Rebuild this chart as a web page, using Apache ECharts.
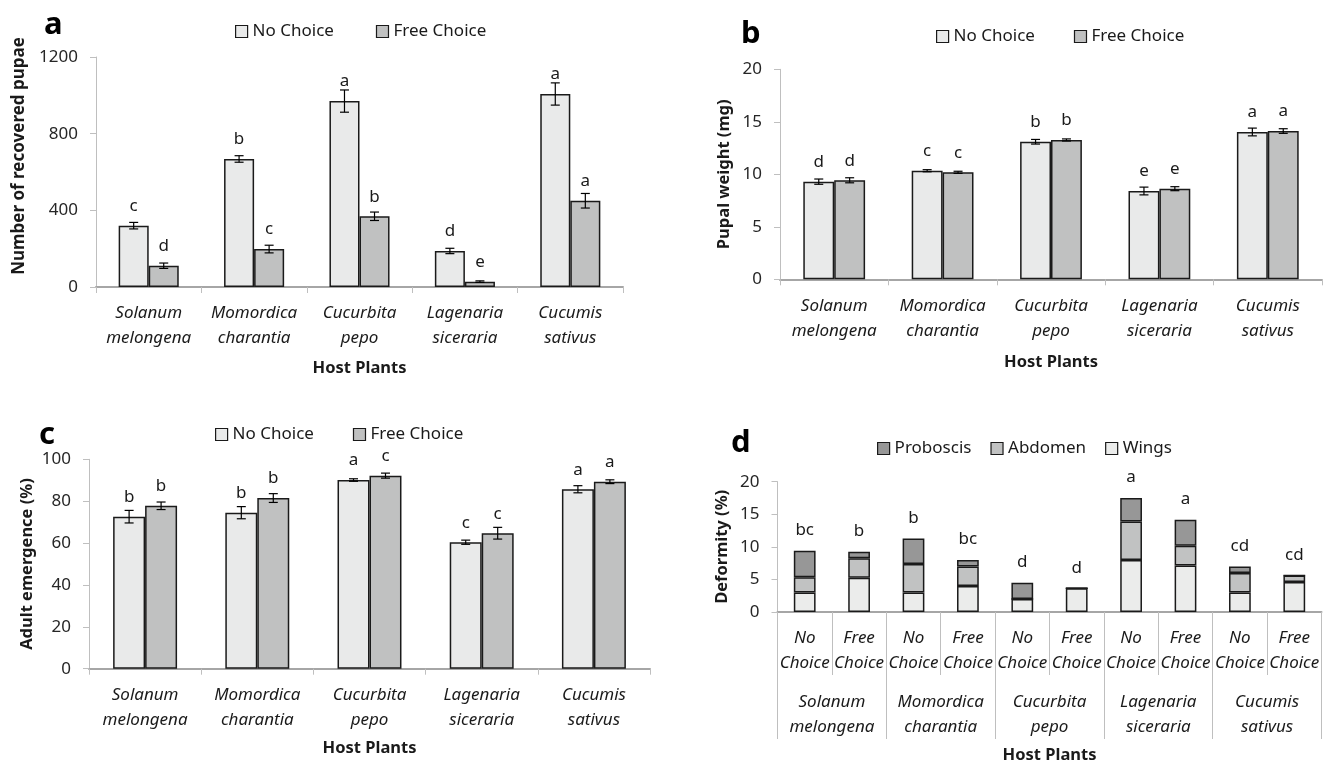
<!DOCTYPE html>
<html>
<head>
<meta charset="utf-8">
<script src="https://cdn.jsdelivr.net/npm/echarts@6/dist/echarts.min.js"></script>
<style>
html,body{margin:0;padding:0;background:#fff;}
#chart{width:1323px;height:765px;}
</style>
</head>
<body>
<div id="chart"></div>
<script>
// ---------- data ----------
const hostPlants = ['Solanum\nmelongena', 'Momordica\ncharantia', 'Cucurbita\npepo', 'Lagenaria\nsiceraria', 'Cucumis\nsativus'];
const treatments = ['No\nChoice', 'Free\nChoice'];

// (a) Number of recovered pupae
const pupaeNC = [320, 668, 970, 188, 1007];
const pupaeNCerr = [17, 17, 58, 14, 58];
const pupaeNCletters = ['c', 'b', 'a', 'd', 'a'];
const pupaeFC = [111, 198, 369, 28, 450];
const pupaeFCerr = [14, 20, 22, 4, 38];
const pupaeFCletters = ['d', 'c', 'b', 'e', 'a'];
const pupaeTicks = [0, 400, 800, 1200];

// (b) Pupal weight (mg)
const weightNC = [9.30, 10.34, 13.10, 8.41, 14.03];
const weightNCerr = [0.25, 0.1, 0.22, 0.37, 0.37];
const weightNCletters = ['d', 'c', 'b', 'e', 'a'];
const weightFC = [9.43, 10.19, 13.27, 8.63, 14.12];
const weightFCerr = [0.24, 0.1, 0.1, 0.19, 0.22];
const weightFCletters = ['d', 'c', 'b', 'e', 'a'];
const weightTicks = [0, 5, 10, 15, 20];

// (c) Adult emergence (%)
const emergNC = [72.6, 74.5, 90.1, 60.4, 85.7];
const emergNCerr = [3.0, 2.9, 0.6, 1.0, 1.7];
const emergNCletters = ['b', 'b', 'a', 'c', 'a'];
const emergFC = [77.8, 81.5, 92.2, 64.7, 89.3];
const emergFCerr = [1.8, 2.1, 1.2, 2.8, 0.9];
const emergFCletters = ['b', 'b', 'c', 'c', 'a'];
const emergTicks = [0, 20, 40, 60, 80, 100];

// (d) Deformity (%) – order: Sol NC, Sol FC, Mom NC, Mom FC, Cuc NC, Cuc FC, Lag NC, Lag FC, Cum NC, Cum FC
const deformWings = [3.0, 5.25, 3.0, 4.0, 2.0, 3.65, 8.0, 7.15, 3.0, 4.6];
const deformAbdomen = [2.35, 3.0, 4.35, 3.0, 0, 0, 5.9, 3.0, 3.0, 1.0];
const deformProboscis = [4.05, 1.0, 3.95, 1.0, 2.5, 0, 3.6, 4.0, 1.0, 0];
const deformLetters = ['bc', 'b', 'b', 'bc', 'd', 'd', 'a', 'a', 'cd', 'cd'];
const deformTicks = [0, 5, 10, 15, 20];

// ---------- styling ----------
const FONT = 'Noto Sans';
const TXT = '#1a1a1a';
const COL_NC = '#e9eaea';
const COL_FC = '#c0c1c1';
const COL_PROB = '#979797';
const COL_ABD = '#c1c2c2';
const COL_WING = '#ebeceb';
const BORDER = '#1a1a1a';
const GAP = 0.43;

const chart = echarts.init(document.getElementById('chart'));

function yAxis(gridIndex, ticks, name, nameGap, shift, nameSize) {
  return {
    type: 'value', gridIndex, min: ticks[0], max: ticks[ticks.length - 1],
    interval: ticks[1] - ticks[0],
    name, nameLocation: 'middle', nameGap,
    nameTextStyle: { fontFamily: FONT, fontSize: nameSize || 16.5, fontWeight: 'bold', color: TXT, padding: [0, 0, 0, shift || 0] },
    axisLine: { show: true, lineStyle: { color: '#bfbfbf', width: 1 } },
    axisTick: { show: true, length: 6, lineStyle: { color: '#bfbfbf' } },
    splitLine: { show: false },
    axisLabel: { fontFamily: FONT, fontSize: 17, color: '#262626', margin: 18, formatter: v => String(v) }
  };
}
function xAxis(gridIndex, data, opts) {
  return Object.assign({
    type: 'category', gridIndex, data, boundaryGap: true, position: 'bottom', offset: 0,
    axisLine: { show: true, lineStyle: { color: '#a6a6a6', width: 2 } },
    axisTick: { show: true, length: 6, interval: 0, lineStyle: { color: '#bfbfbf', width: 1 } },
    axisLabel: { interval: 0, fontFamily: FONT, fontSize: 17, fontStyle: 'italic', color: TXT, lineHeight: 25, margin: 14 },
    nameLocation: 'middle',
    nameTextStyle: { fontFamily: FONT, fontSize: 16.5, fontWeight: 'bold', color: TXT }
  }, opts || {});
}
function bar(name, xi, yi, data, color) {
  return {
    name, type: 'bar', xAxisIndex: xi, yAxisIndex: yi, data,
    barGap: 0, barCategoryGap: (GAP * 100) + '%',
    itemStyle: { color, borderColor: BORDER, borderWidth: 1.5 },
    emphasis: { disabled: true }, z: 2
  };
}
function errSeries(name, xi, yi, vals, errs, letters, side) {
  return {
    name, type: 'custom', xAxisIndex: xi, yAxisIndex: yi, z: 5,
    data: vals.map((v, i) => [i, v, errs[i]]),
    renderItem(params, api) {
      const i = api.value(0), v = api.value(1), e = api.value(2);
      const band = api.size([1, 0])[0];
      const off = side * band * (1 - GAP) / 4;
      const t = api.coord([i, v + e]), b = api.coord([i, v - e]), p = api.coord([i, v]);
      const x = t[0] + off, cap = 4.5;
      const ls = { stroke: '#000', lineWidth: 1.2 };
      return {
        type: 'group', children: [
          { type: 'line', shape: { x1: x, y1: t[1], x2: x, y2: b[1] }, style: ls },
          { type: 'line', shape: { x1: x - cap, y1: t[1], x2: x + cap, y2: t[1] }, style: ls },
          { type: 'line', shape: { x1: x - cap, y1: b[1], x2: x + cap, y2: b[1] }, style: ls },
          { type: 'text', style: { text: letters[params.dataIndex], x, y: p[1] - 11, align: 'center', verticalAlign: 'bottom', fontFamily: FONT, fontSize: 17, fill: TXT } }
        ]
      };
    }
  };
}
function legend(left, top, data, gap) {
  return {
    left, top, data, itemGap: gap, itemWidth: 12, itemHeight: 12, padding: 0,
    selectedMode: false, icon: 'rect',
    itemStyle: { borderColor: BORDER, borderWidth: 1.2 },
    textStyle: { fontFamily: FONT, fontSize: 17, color: TXT }
  };
}

const deformTotals = deformWings.map((w, i) => w + deformAbdomen[i] + deformProboscis[i]);
const subCats = hostPlants.flatMap(() => treatments);

const option = {
  backgroundColor: '#fff',
  animation: false,
  grid: [
    { left: 96, top: 57, width: 527, height: 230 },
    { left: 780, top: 69.3, width: 542, height: 210 },
    { left: 89, top: 459.3, width: 561, height: 209.4 },
    { left: 777.5, top: 481.7, width: 544, height: 133.3 }
  ],
  legend: [
    legend(235, 23, ['No Choice', 'Free Choice'], 42),
    legend(936, 28, ['No Choice', 'Free Choice'], 39),
    legend(215, 426, ['No Choice', 'Free Choice'], 39),
    legend(877, 440, ['Proboscis', 'Abdomen', 'Wings'], 19)
  ],
  xAxis: [
    xAxis(0, hostPlants, { name: 'Host Plants', nameGap: 73 }),
    xAxis(1, hostPlants, { name: 'Host Plants', nameGap: 74 }),
    xAxis(2, hostPlants, { name: 'Host Plants', nameGap: 71 }),
    xAxis(3, subCats, { axisTick: { show: true, length: 63, interval: 0, lineStyle: { color: '#bfbfbf', width: 1 } } }),
    xAxis(3, hostPlants, {
      name: 'Host Plants', nameGap: 135,
      axisLine: { show: false },
      axisTick: { show: true, length: 127, interval: 0, lineStyle: { color: '#bfbfbf', width: 1 } },
      axisLabel: { interval: 0, fontFamily: FONT, fontSize: 17, fontStyle: 'italic', color: TXT, lineHeight: 25, margin: 77.5 }
    })
  ],
  yAxis: [
    yAxis(0, pupaeTicks, 'Number of recovered pupae', 68, 32, 17),
    yAxis(1, weightTicks, 'Pupal weight (mg)', 47, 0),
    yAxis(2, emergTicks, 'Adult emergence (%)', 53, 0),
    yAxis(3, deformTicks, 'Deformity (%)', 47, 0)
  ],
  series: [
    bar('No Choice', 0, 0, pupaeNC, COL_NC),
    bar('Free Choice', 0, 0, pupaeFC, COL_FC),
    errSeries('errA1', 0, 0, pupaeNC, pupaeNCerr, pupaeNCletters, -1),
    errSeries('errA2', 0, 0, pupaeFC, pupaeFCerr, pupaeFCletters, 1),

    bar('No Choice', 1, 1, weightNC, COL_NC),
    bar('Free Choice', 1, 1, weightFC, COL_FC),
    errSeries('errB1', 1, 1, weightNC, weightNCerr, weightNCletters, -1),
    errSeries('errB2', 1, 1, weightFC, weightFCerr, weightFCletters, 1),

    bar('No Choice', 2, 2, emergNC, COL_NC),
    bar('Free Choice', 2, 2, emergFC, COL_FC),
    errSeries('errC1', 2, 2, emergNC, emergNCerr, emergNCletters, -1),
    errSeries('errC2', 2, 2, emergFC, emergFCerr, emergFCletters, 1),

    Object.assign(bar('Wings', 3, 3, deformWings, COL_WING), { stack: 'd', barCategoryGap: '60%' }),
    Object.assign(bar('Abdomen', 3, 3, deformAbdomen, COL_ABD), { stack: 'd', barCategoryGap: '60%' }),
    Object.assign(bar('Proboscis', 3, 3, deformProboscis, COL_PROB), { stack: 'd', barCategoryGap: '60%' }),
    {
      name: 'lettersD', type: 'custom', xAxisIndex: 3, yAxisIndex: 3, z: 5,
      data: deformTotals.map((t, i) => [i, t]),
      renderItem(params, api) {
        const p = api.coord([api.value(0), api.value(1)]);
        return { type: 'text', style: { text: deformLetters[params.dataIndex], x: p[0], y: p[1] - 12, align: 'center', verticalAlign: 'bottom', fontFamily: FONT, fontSize: 17, fill: TXT } };
      }
    }
  ],
  graphic: [
    { type: 'text', left: 44, top: 10, style: { text: 'a', fontFamily: FONT, fontSize: 31, fontWeight: 'bold', fill: '#000' } },
    { type: 'text', left: 741, top: 19, style: { text: 'b', fontFamily: FONT, fontSize: 31, fontWeight: 'bold', fill: '#000' } },
    { type: 'text', left: 39, top: 420, style: { text: 'c', fontFamily: FONT, fontSize: 31, fontWeight: 'bold', fill: '#000' } },
    { type: 'text', left: 731, top: 428, style: { text: 'd', fontFamily: FONT, fontSize: 31, fontWeight: 'bold', fill: '#000' } }
  ]
};
chart.setOption(option);
</script>
</body>
</html>
